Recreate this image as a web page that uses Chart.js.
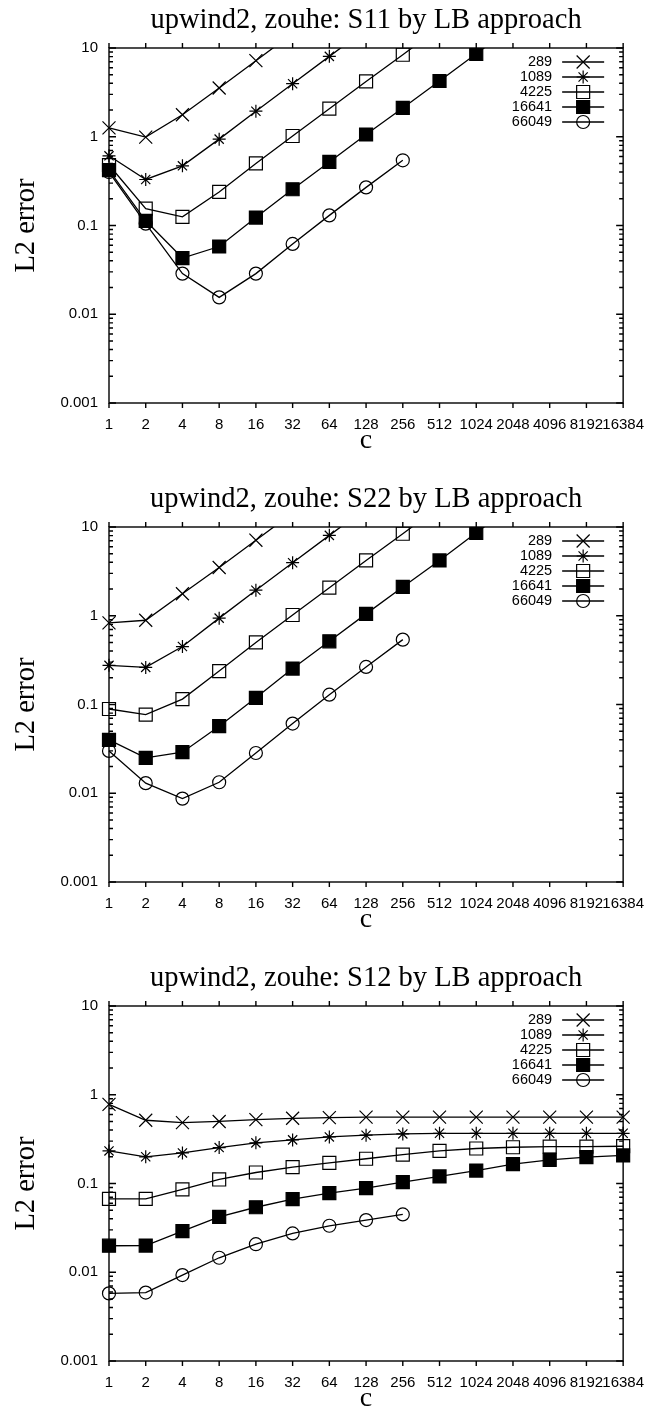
<!DOCTYPE html>
<html>
<head>
<meta charset="utf-8">
<title>upwind2, zouhe: L2 error by LB approach</title>
<script src="https://cdn.jsdelivr.net/npm/chart.js@4.4.1/dist/chart.umd.min.js"></script>
<style>
  html, body { margin: 0; padding: 0; background: #fff; width: 657px; height: 1412px; overflow: hidden; }
  .panel { position: absolute; left: 0; width: 657px; height: 479px; }
</style>
</head>
<body>
<div class="panel" style="top:0"><canvas id="chartS11" width="657" height="479"></canvas></div>
<div class="panel" style="top:479px"><canvas id="chartS22" width="657" height="479"></canvas></div>
<div class="panel" style="top:958px"><canvas id="chartS12" width="657" height="479"></canvas></div>
<script>
const cLabels = ['1', '2', '4', '8', '16', '32', '64', '128', '256', '512', '1024', '2048', '4096', '8192', '16384'];
const seriesNames = ['289', '1089', '4225', '16641', '66049'];
const yTickValues = [0.001, 0.01, 0.1, 1, 10];
const yTickLabels = ['0.001', '0.01', '0.1', '1', '10'];

// S11 - the rising curves leave the plot at the top, last value is above 10
const s11_289 = [1.26, 0.99, 1.77, 3.54, 7.2, 14.6];
const s11_1089 = [0.61, 0.33, 0.47, 0.94, 1.94, 3.96, 8.05, 16.3];
const s11_4225 = [0.48, 0.155, 0.125, 0.239, 0.50, 1.02, 2.07, 4.2, 8.4, 17];
const s11_16641 = [0.42, 0.113, 0.043, 0.058, 0.123, 0.256, 0.52, 1.06, 2.11, 4.25, 8.6, 17.5];
const s11_66049 = [0.40, 0.105, 0.0287, 0.0155, 0.0287, 0.062, 0.130, 0.269, 0.543];

// S22
const s22_289 = [0.83, 0.89, 1.77, 3.5, 7.1, 14.4];
const s22_1089 = [0.276, 0.262, 0.45, 0.94, 1.94, 3.96, 8.05, 16.3];
const s22_4225 = [0.089, 0.077, 0.115, 0.238, 0.50, 1.02, 2.07, 4.2, 8.4, 17];
const s22_16641 = [0.040, 0.025, 0.029, 0.057, 0.119, 0.254, 0.515, 1.05, 2.11, 4.2, 8.6, 17.5];
const s22_66049 = [0.030, 0.0130, 0.0087, 0.0133, 0.0284, 0.061, 0.129, 0.265, 0.538];

// S12
const s12_289 = [0.78, 0.516, 0.486, 0.50, 0.525, 0.543, 0.553, 0.56, 0.56, 0.56, 0.56, 0.56, 0.56, 0.56, 0.56];
const s12_1089 = [0.233, 0.20, 0.221, 0.254, 0.287, 0.31, 0.335, 0.35, 0.362, 0.368, 0.368, 0.368, 0.368, 0.368, 0.368];
const s12_4225 = [0.067, 0.067, 0.086, 0.111, 0.133, 0.153, 0.171, 0.19, 0.212, 0.233, 0.248, 0.256, 0.26, 0.26, 0.263];
const s12_16641 = [0.0199, 0.020, 0.029, 0.042, 0.054, 0.0667, 0.078, 0.0886, 0.1035, 0.12, 0.14, 0.165, 0.185, 0.198, 0.207];
const s12_66049 = [0.00578, 0.0059, 0.0093, 0.01456, 0.0207, 0.0274, 0.0334, 0.0387, 0.0448];

const sansFont = '"Liberation Sans", Arial, sans-serif';
const serifFont = '"Liberation Serif", "Times New Roman", serif';

// gnuplot style point types
const markers = [
    { style: 'crossRot', radius: 9.2, fill: 'rgba(0,0,0,0)' },
    { style: 'star', radius: 6.5, fill: 'rgba(0,0,0,0)' },
    { style: 'rect', radius: 9.2, fill: 'rgba(0,0,0,0)' },
    { style: 'rect', radius: 9.2, fill: '#000' },
    { style: 'circle', radius: 6.5, fill: 'rgba(0,0,0,0)' }
];

// border box with ticks: x ticks outside, log y ticks inside (mirrored)
const frameTicks = {
    id: 'frameTicks',
    afterDatasetsDraw(chart) {
        const { ctx, chartArea: a } = chart;
        const x = chart.scales.x, y = chart.scales.y;
        ctx.save();
        ctx.strokeStyle = '#000';
        ctx.lineWidth = 1.4;
        ctx.strokeRect(a.left, a.top, a.right - a.left, a.bottom - a.top);
        ctx.beginPath();
        cLabels.forEach((l, i) => {
            const px = x.getPixelForTick(i);
            ctx.moveTo(px, a.bottom); ctx.lineTo(px, a.bottom + 5);
            ctx.moveTo(px, a.top); ctx.lineTo(px, a.top - 5);
        });
        yTickValues.forEach((d, i) => {
            const py = y.getPixelForValue(d);
            ctx.moveTo(a.left, py); ctx.lineTo(a.left + 7, py);
            ctx.moveTo(a.right, py); ctx.lineTo(a.right - 7, py);
            if (i === yTickValues.length - 1) return;
            for (let m = 2; m <= 9; m++) {
                const pm = y.getPixelForValue(d * m);
                ctx.moveTo(a.left, pm); ctx.lineTo(a.left + 4, pm);
                ctx.moveTo(a.right, pm); ctx.lineTo(a.right - 4, pm);
            }
        });
        ctx.stroke();
        ctx.restore();
    }
};

// key in the top right corner, text right aligned then line sample with point
const keyBox = {
    id: 'keyBox',
    afterDraw(chart) {
        const { ctx, chartArea: a } = chart;
        ctx.save();
        ctx.font = '14.5px ' + sansFont;
        ctx.textAlign = 'right';
        ctx.textBaseline = 'middle';
        chart.data.datasets.forEach((ds, i) => {
            const yy = a.top + 14 + i * 15;
            ctx.fillStyle = '#000';
            ctx.fillText(ds.label, a.right - 71, yy);
            ctx.strokeStyle = '#000';
            ctx.lineWidth = ds.borderWidth;
            ctx.beginPath();
            ctx.moveTo(a.right - 61, yy);
            ctx.lineTo(a.right - 19, yy);
            ctx.stroke();
            ctx.fillStyle = ds.pointBackgroundColor;
            ctx.lineWidth = ds.pointBorderWidth;
            Chart.helpers.drawPoint(ctx, {
                pointStyle: ds.pointStyle,
                radius: ds.pointRadius,
                rotation: 0,
                borderWidth: ds.pointBorderWidth
            }, a.right - 40, yy);
        });
        ctx.restore();
    }
};

function makeChart(id, titleText, seriesData) {
    return new Chart(document.getElementById(id), {
        type: 'line',
        data: {
            labels: cLabels,
            datasets: seriesData.map((vals, i) => ({
                label: seriesNames[i],
                data: vals,
                borderColor: '#000',
                borderWidth: 1.3,
                pointStyle: markers[i].style,
                pointRadius: markers[i].radius,
                pointBackgroundColor: markers[i].fill,
                pointBorderColor: '#000',
                pointBorderWidth: 1.2,
                tension: 0,
                fill: false,
                clip: { left: 20, right: 20, top: 0, bottom: 0 }
            }))
        },
        options: {
            responsive: false,
            animation: false,
            devicePixelRatio: 1,
            layout: { padding: { top: 0, left: 0, right: 23, bottom: 22 } },
            plugins: {
                legend: { display: false },
                tooltip: { enabled: false },
                title: {
                    display: true,
                    text: titleText,
                    fullSize: false,
                    color: '#000',
                    font: { family: serifFont, size: 28.5, weight: 'normal' },
                    padding: { top: 3, bottom: 10.8 }
                }
            },
            scales: {
                x: {
                    type: 'category',
                    offset: false,
                    grid: { display: false, drawTicks: false },
                    border: { display: false },
                    ticks: {
                        autoSkip: false, maxRotation: 0, minRotation: 0, padding: 13,
                        color: '#000', font: { family: sansFont, size: 15 }
                    },
                    title: {
                        display: true, text: 'c', color: '#000',
                        font: { family: serifFont, size: 28 },
                        padding: { top: 0, bottom: 0 }
                    },
                    afterFit(scale) { scale.height = 54; }
                },
                y: {
                    type: 'logarithmic',
                    min: 0.001,
                    max: 10,
                    grid: { display: false, drawTicks: false },
                    border: { display: false },
                    afterBuildTicks(scale) {
                        scale.ticks = yTickValues.map(v => ({ value: v, major: true }));
                    },
                    ticks: {
                        padding: 11, color: '#000', font: { family: sansFont, size: 15 },
                        callback: (v) => yTickLabels[yTickValues.indexOf(v)]
                    },
                    title: {
                        display: true, text: 'L2 error', color: '#000',
                        font: { family: serifFont, size: 28.5 },
                        padding: { top: 9, bottom: 0 }
                    },
                    afterFit(scale) { scale.width = 109; }
                }
            }
        },
        plugins: [frameTicks, keyBox]
    });
}

makeChart('chartS11', 'upwind2, zouhe: S11 by LB approach', [s11_289, s11_1089, s11_4225, s11_16641, s11_66049]);
makeChart('chartS22', 'upwind2, zouhe: S22 by LB approach', [s22_289, s22_1089, s22_4225, s22_16641, s22_66049]);
makeChart('chartS12', 'upwind2, zouhe: S12 by LB approach', [s12_289, s12_1089, s12_4225, s12_16641, s12_66049]);
</script>
</body>
</html>
